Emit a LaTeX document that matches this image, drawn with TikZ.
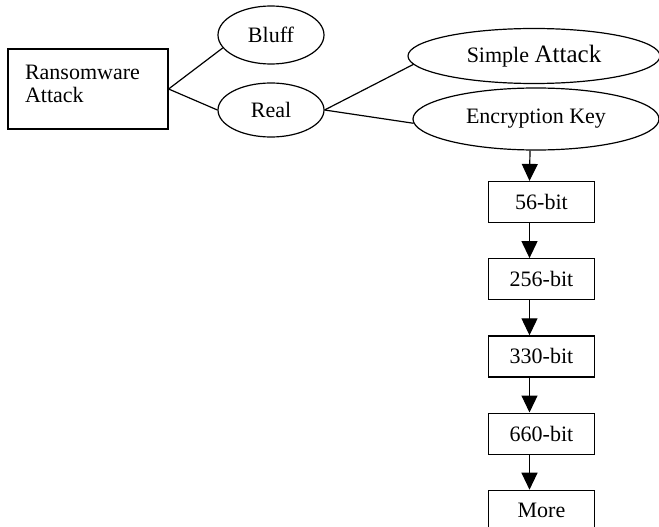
\documentclass[tikz,border=0pt]{standalone}
\usepackage{fontspec}
\setmainfont{Liberation Serif}
\usetikzlibrary{arrows.meta,positioning,shapes.geometric}
\tikzstyle{attackbox}=[
	rectangle,
	draw,
	line width=1.2pt,
	text width=126pt,
	text depth=33pt,
	align=left,
	inner xsep=17pt,
	minimum height=80pt
]
\tikzstyle{choice}=[
	ellipse,
	draw,
	line width=1.2pt,
	inner sep=0pt
]
\tikzstyle{keysize}=[
	rectangle,
	draw,
	line width=1.2pt,
	minimum width=106pt,
	minimum height=41pt,
	inner sep=0pt,
	node distance=35pt
]
\tikzstyle{branchline}=[
	line width=1.2pt
]
\tikzstyle{sizearrow}=[
	-{Triangle[width=16pt,length=17pt]},
	line width=1.2pt
]

\begin{document}
\begin{tikzpicture}[x=1pt,y=-1pt,font=\fontsize{22}{23}\selectfont]
\useasboundingbox (0,0) rectangle (659,527);
\node [attackbox] (Ransomware) at (88,89) {Ransomware\\Attack};
\node [choice, minimum width=106pt, minimum height=58pt] (Bluff) at (271,35) {Bluff};
\node [choice, minimum width=106pt, minimum height=54pt] (Real) at (271,110) {Real};
\node [choice, minimum width=252pt, minimum height=55pt] (SimpleAttack) at (534,56)
	{Simple {\fontsize{25}{27}\selectfont Attack}};
\node [choice, minimum width=246pt, minimum height=62pt] (EncryptionKey) at (536,119) {Encryption Key};
\node [keysize] (Bit56) at (541.5,202) {56-bit};
\node [keysize] (Bit256)[below=of Bit56] {256-bit};
\node [keysize] (Bit330)[below=of Bit256] {330-bit};
\node [keysize] (Bit660)[below=of Bit330] {660-bit};
\node [keysize] (More)[below=of Bit660] {More};

\draw [branchline] (Ransomware.east) -- (Bluff.195);
\draw [branchline] (Ransomware.east) -- (Real.west);
\draw [branchline] (Real.east) -- (SimpleAttack.184);
\draw [branchline] (Real.east) -- (EncryptionKey.182);
\draw [sizearrow] ([xshift=-6pt]EncryptionKey.south) -- ([xshift=-12pt]Bit56.north);
\draw [sizearrow] ([xshift=-12pt]Bit56.south) -- ([xshift=-12pt]Bit256.north);
\draw [sizearrow] ([xshift=-12pt]Bit256.south) -- ([xshift=-12pt]Bit330.north);
\draw [sizearrow] ([xshift=-12pt]Bit330.south) -- ([xshift=-12pt]Bit660.north);
\draw [sizearrow] ([xshift=-12pt]Bit660.south) -- ([xshift=-12pt]More.north);
\end{tikzpicture}
\end{document}
